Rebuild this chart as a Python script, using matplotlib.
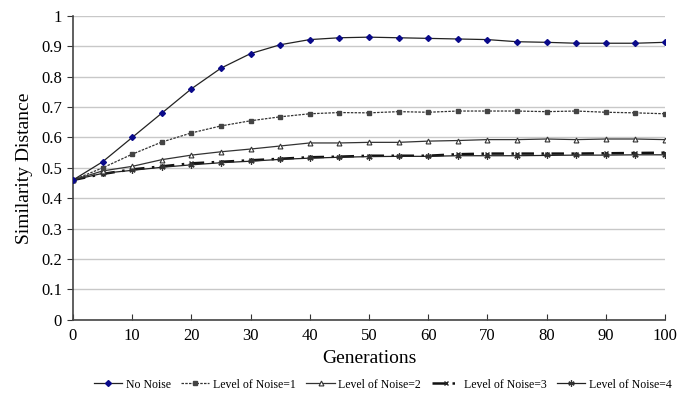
import matplotlib
matplotlib.use("Agg")
import matplotlib.pyplot as plt

generations = [0, 5, 10, 15, 20, 25, 30, 35, 40, 45, 50, 55, 60, 65, 70, 75, 80, 85, 90, 95, 100]
no_noise = [0.46, 0.52, 0.60, 0.68, 0.76, 0.828, 0.876, 0.905, 0.922, 0.928, 0.930, 0.928, 0.926, 0.924, 0.922, 0.915, 0.913, 0.910, 0.910, 0.910, 0.913]
noise1 = [0.46, 0.50, 0.545, 0.585, 0.615, 0.638, 0.655, 0.668, 0.678, 0.682, 0.681, 0.685, 0.683, 0.687, 0.687, 0.687, 0.685, 0.687, 0.683, 0.681, 0.678]
noise2 = [0.46, 0.49, 0.505, 0.527, 0.542, 0.553, 0.562, 0.572, 0.582, 0.582, 0.584, 0.584, 0.588, 0.590, 0.593, 0.593, 0.595, 0.593, 0.595, 0.595, 0.593]
noise3 = [0.46, 0.48, 0.495, 0.505, 0.515, 0.520, 0.525, 0.530, 0.535, 0.537, 0.540, 0.540, 0.540, 0.545, 0.547, 0.547, 0.547, 0.547, 0.548, 0.549, 0.550]
noise4 = [0.46, 0.482, 0.492, 0.502, 0.510, 0.517, 0.522, 0.528, 0.532, 0.535, 0.537, 0.538, 0.538, 0.540, 0.540, 0.540, 0.541, 0.542, 0.542, 0.543, 0.543]
labels = ["No Noise", "Level of Noise=1", "Level of Noise=2", "Level of Noise=3", "Level of Noise=4"]
y_ticks = [0, 0.1, 0.2, 0.3, 0.4, 0.5, 0.6, 0.7, 0.8, 0.9, 1]
y_tick_labels = ["0", "0.1", "0.2", "0.3", "0.4", "0.5", "0.6", "0.7", "0.8", "0.9", "1"]
x_ticks = [0, 10, 20, 30, 40, 50, 60, 70, 80, 90, 100]

plt.rcParams['font.family'] = ['Liberation Serif', 'DejaVu Serif']

fig = plt.figure(figsize=(6.82, 4.07), dpi=100)
ax = fig.add_axes([0.107, 0.214, 0.868, 0.747])

ax.plot(generations, no_noise, color='#222222', lw=0.9, marker='D', ms=3,
        mfc='#0a0a8a', mec='#0a0a8a', label=labels[0], zorder=5)
ax.plot(generations, noise1, color='#333333', lw=0.9, ls=(0, (2, 1)), marker='s', ms=3,
        mfc='#444444', mec='#444444', label=labels[1], zorder=4)
ax.plot(generations, noise2, color='#333333', lw=0.9, marker='^', ms=3.5,
        mfc='white', mec='#333333', mew=0.8, label=labels[2], zorder=3)
ax.plot(generations, noise3, color='#111111', lw=1.8, ls=(0, (5, 3, 1, 3)), marker='x', ms=3.5,
        mec='#222222', mew=1.0, label=labels[3], zorder=2)
ax.plot(generations, noise4, color='#222222', lw=0.9, marker=(6, 2, 0), ms=4.5,
        mec='#333333', mew=0.9, label=labels[4], zorder=2)

ax.set_xlim(0, 100)
ax.set_ylim(0, 1)
ax.set_yticks(y_ticks)
ax.set_yticklabels(y_tick_labels)
ax.set_xticks(x_ticks)
ax.tick_params(axis='both', labelsize=12, colors='#333333', labelcolor='black')
ax.tick_params(axis='x', direction='in', length=4, pad=6)
ax.tick_params(axis='y', direction='out', length=4, pad=4)
ax.yaxis.grid(True, color='#c8c8c8', lw=1)
ax.set_axisbelow(True)
for s in ['top', 'right']:
    ax.spines[s].set_visible(False)
for s in ['left', 'bottom']:
    ax.spines[s].set_color('#444444')
    ax.spines[s].set_linewidth(1.2)

ax.set_xlabel("Generations", fontsize=14, labelpad=4)
ax.set_ylabel("Similarity Distance", fontsize=14, labelpad=6)

fig.legend(loc='center', bbox_to_anchor=(0.561, 0.055), ncol=5, frameon=False,
           fontsize=8.5, handlelength=2.4, handletextpad=0.3, columnspacing=0.9,
           borderpad=0.1, borderaxespad=0.1)

fig.savefig("out.png", dpi=100)
